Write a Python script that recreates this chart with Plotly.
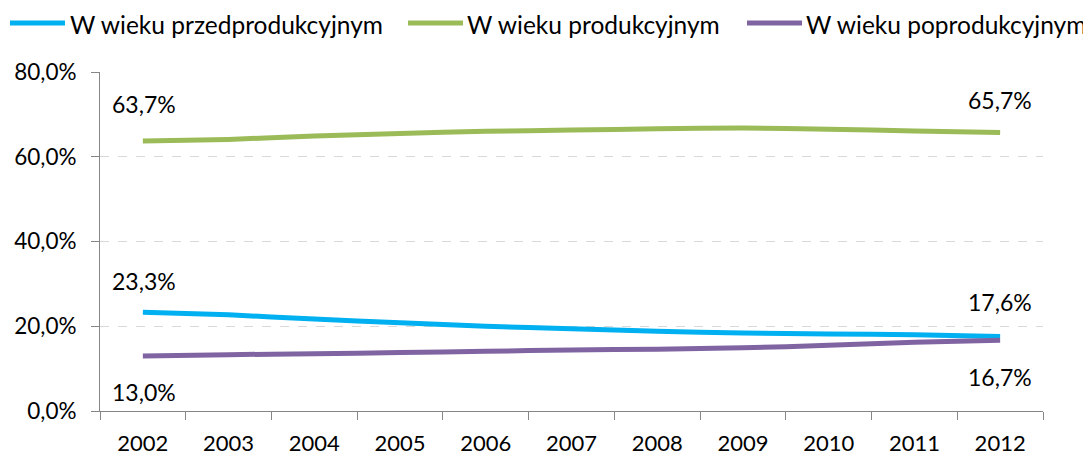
import plotly.graph_objects as go

years = ["2002", "2003", "2004", "2005", "2006", "2007", "2008", "2009", "2010", "2011", "2012"]
przed = [23.3, 22.7, 21.7, 20.8, 20.0, 19.4, 18.8, 18.4, 18.2, 18.0, 17.6]
prod = [63.7, 64.1, 64.9, 65.5, 66.0, 66.3, 66.6, 66.8, 66.5, 66.1, 65.7]
popr = [13.0, 13.3, 13.5, 13.8, 14.1, 14.4, 14.6, 14.9, 15.5, 16.2, 16.7]
names = ["W wieku przedprodukcyjnym", "W wieku produkcyjnym", "W wieku poprodukcyjnym"]
colors = ["#00B0F0", "#9BBB59", "#8064A2"]
yticks = [0, 20, 40, 60, 80]

FONT = "Lato"
PCT = chr(37)

# page layout (the page body adds an 8px offset)
OFF = 8
W, H = 1091 - OFF, 457 - OFF
ML, MR, MT, MB = 100 - OFF, 48, 72 - OFF, 46
PW = W - ML - MR
PH = H - MT - MB


def px2paper_x(px):
    return (px - OFF - ML) / PW


def px2paper_y(py):
    return (H - MB - (py - OFF)) / PH


def fmt(v):
    return f"{v:.1f}".replace(".", ",") + PCT


xpos = list(range(len(years)))

fig = go.Figure()
for vals, name, col in zip([przed, prod, popr], names, colors):
    fig.add_trace(go.Scatter(x=xpos, y=vals, name=name, mode="lines", showlegend=False,
                             line=dict(color=col, width=5, shape="spline", smoothing=0.6)))

# data labels at first and last points
shifts_first = [31, 37, -36]
shifts_last = [34, 33, -37]
for vals, s1, s2 in zip([przed, prod, popr], shifts_first, shifts_last):
    fig.add_annotation(x=xpos[0], y=vals[0], xref="x", yref="y", text=fmt(vals[0]),
                       showarrow=False, yshift=s1, xshift=1,
                       font=dict(size=23, color="#000000", family=FONT))
    fig.add_annotation(x=xpos[-1], y=vals[-1], xref="x", yref="y", text=fmt(vals[-1]),
                       showarrow=False, yshift=s2, xshift=0,
                       font=dict(size=23, color="#000000", family=FONT))

# legend (top row)
leg_line_x = [(10, 65), (408, 463), (747, 802)]
leg_text_x = [69, 466, 805]
LEG_Y = 23
for (x0, x1), tx, name, col in zip(leg_line_x, leg_text_x, names, colors):
    fig.add_shape(type="line", xref="paper", yref="paper",
                  x0=px2paper_x(x0), x1=px2paper_x(x1),
                  y0=px2paper_y(LEG_Y), y1=px2paper_y(LEG_Y),
                  line=dict(color=col, width=5))
    fig.add_annotation(xref="paper", yref="paper", x=px2paper_x(tx), y=px2paper_y(LEG_Y + 1),
                       xanchor="left", yanchor="middle", text=name, showarrow=False,
                       borderpad=0, font=dict(size=24.5, color="#000000", family=FONT))

fig.update_layout(
    width=W, height=H,
    margin=dict(l=ML, r=MR, t=MT, b=MB, autoexpand=False),
    paper_bgcolor="white", plot_bgcolor="white",
    font=dict(family=FONT, size=22, color="#000000"),
    showlegend=False,
)
fig.update_xaxes(range=[-0.5, 10.5], tickvals=xpos, ticktext=years,
                 ticks="", ticklabelstandoff=13,
                 showline=True, linecolor="#868686", linewidth=1, showgrid=False,
                 zeroline=False, tickfont=dict(size=22, family=FONT))
# boundary tick marks between categories
fig.update_xaxes(minor=dict(tickvals=[p - 0.5 for p in xpos] + [xpos[-1] + 0.5],
                            ticks="outside", ticklen=8, tickcolor="#868686", showgrid=False))
fig.update_yaxes(range=[0, 80], tickvals=yticks, ticktext=[fmt(v) for v in yticks],
                 ticks="outside", ticklen=8, tickcolor="#868686", ticklabelstandoff=10,
                 showline=True, linecolor="#868686", linewidth=1,
                 showgrid=True, gridcolor="#D9D9D9", griddash="dash", gridwidth=1,
                 zeroline=False, tickfont=dict(size=22.5, family=FONT))

fig.write_html("out.html")
